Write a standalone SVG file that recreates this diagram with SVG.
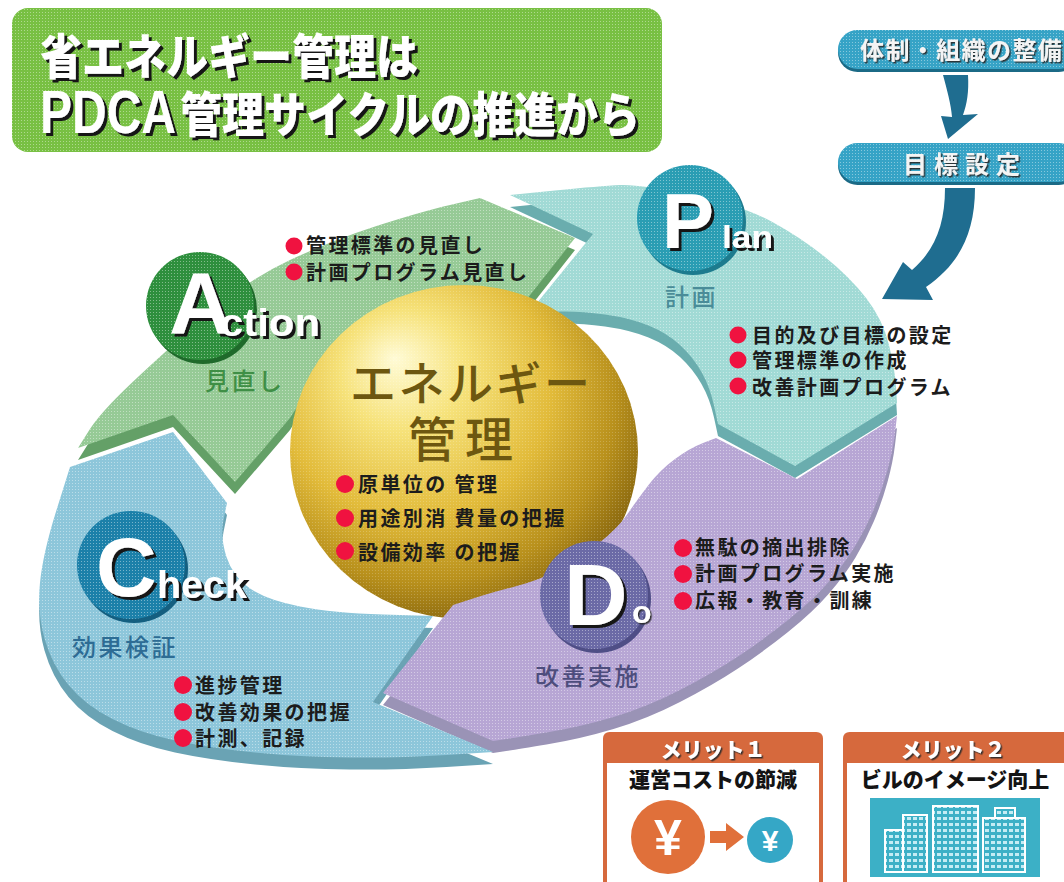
<svg xmlns="http://www.w3.org/2000/svg" width="1064" height="882" viewBox="0 0 1064 882">
<defs>
<style>
.jp{font-family:'Noto Sans CJK JP','Noto Sans CJK SC',sans-serif}
.lat{font-family:'Liberation Sans',Arial,sans-serif;font-weight:700}
.bul{font-size:20px;font-weight:700;fill:#1c1c1c;letter-spacing:2.4px}
.red{fill:#f01240}
.wt{fill:#fff}
.title{font-size:48px;font-weight:900}
.sub{font-size:24px;font-weight:500;letter-spacing:2.5px}
.pill{font-size:24px;font-weight:700}
.merit{font-size:21px;font-weight:900}
.sh3{filter:url(#drop3)}
.sh2{filter:url(#drop2)}
</style>
<filter id="drop3" x="-10%" y="-10%" width="130%" height="140%">
<feDropShadow dx="3" dy="3" stdDeviation="0.4" flood-color="#161616" flood-opacity="1"/>
</filter>
<filter id="drop2" x="-10%" y="-10%" width="130%" height="140%">
<feDropShadow dx="1.5" dy="1.5" stdDeviation="0.4" flood-color="#2a2a2a" flood-opacity="0.9"/>
</filter>
<radialGradient id="gold" cx="0.4" cy="0.36" r="0.72" fx="0.3" fy="0.22">
<stop offset="0" stop-color="#fffbd6"/>
<stop offset="0.25" stop-color="#f6e27a"/>
<stop offset="0.55" stop-color="#e2bb3a"/>
<stop offset="0.78" stop-color="#b8901c"/>
<stop offset="0.92" stop-color="#8d6b10"/>
<stop offset="1" stop-color="#9c7a1c"/>
</radialGradient>
<!-- halftone dot overlay used on the printed surfaces -->
<pattern id="dots" width="3" height="3" patternUnits="userSpaceOnUse">
<rect width="1" height="1" fill="#fff" fill-opacity="0.4"/>
</pattern>
<pattern id="win" width="6" height="6" patternUnits="userSpaceOnUse">
<rect width="6" height="6" fill="#3cb0c6"/>
<rect x="1" y="1" width="4" height="3" fill="#c4ecf4"/>
</pattern>
<!-- ring segments: top faces, clockwise Action > Plan > Do > Check -->
<path id="pA" d="M 78,448 L 89,430.5 Q 100,413 130,384.5 Q 160,356 203.5,318 Q 247,280 290,260 Q 333,240 376.5,226 Q 420,212 450,205 L 480,198 L 575,238 L 512,318 C 440,300 340,340 290,418 L 235,482 L 173,415 Z"/>
<path id="pP" d="M 510,195 L 555,190.5 Q 600,186 620,185 Q 640,184 691.5,195 Q 743,206 771.5,221.5 Q 800,237 825,257 Q 850,277 866.5,298.5 Q 883,320 889,345 Q 895,370 896,386.5 L 897,403 L 795,466 L 718,424 L 714,405.5 Q 710,387 701.5,372 Q 693,357 680,345 Q 667,333 648.5,325.5 Q 630,318 605,314.5 Q 580,311 560,311.5 L 528,314 L 593,234 Z"/>
<path id="pD" d="M 897,416 L 895,433 Q 893,450 887.5,470 Q 882,490 874,509 Q 866,528 855.5,545.5 Q 845,563 829,581.5 Q 813,600 788,620 Q 763,640 738,656.5 Q 713,673 680,690 Q 647,707 613.5,717 Q 580,727 546.5,732.5 Q 513,738 503,739.5 L 493,741 L 383,693 L 453,605 L 471.5,599 Q 490,593 515,586.5 Q 540,580 560,569 Q 580,558 599,543 Q 618,528 627.5,514 Q 637,500 648.5,485 Q 660,470 675,459 Q 690,448 703,443 L 716,438 L 797,479 Z"/>
<path id="pC" d="M 493,752 L 446.5,755 Q 400,758 350,757.5 Q 300,757 255,752.5 Q 210,748 175,740.5 Q 140,733 112.5,719 Q 85,705 68.5,685 Q 52,665 44.5,638.5 Q 37,612 40,582.5 Q 43,553 56.5,510 L 70,467 L 173,432 L 227,503 L 223.5,520 Q 220,537 226.5,557 Q 233,577 250,588.5 Q 267,600 300,606.5 Q 333,613 383,614.5 L 433,616 L 373,702 Z"/>
</defs>

<rect width="1064" height="882" fill="#fff"/>

<!-- heading plate -->
<g id="title">
<rect x="12" y="8" width="650" height="144" rx="16" fill="#78c043"/>
<rect x="12" y="8" width="650" height="144" rx="16" fill="url(#dots)"/>
<text class="jp title wt sh3" x="40" y="74" textLength="378" lengthAdjust="spacingAndGlyphs">省エネルギー管理は</text>
<text class="lat wt sh3" font-size="62" x="40" y="133" textLength="136" lengthAdjust="spacingAndGlyphs">PDCA</text>
<text class="jp title wt sh3" x="180" y="132" textLength="460" lengthAdjust="spacingAndGlyphs">管理サイクルの推進から</text>
</g>

<!-- preparation steps -->
<g id="step-taisei">
<rect x="838" y="33" width="240" height="39" rx="19.5" fill="#1b6a86"/>
<rect x="838" y="30" width="240" height="39" rx="19.5" fill="#36a3c6"/>
<rect x="838" y="30" width="240" height="39" rx="19.5" fill="url(#dots)"/>
<text class="jp pill sh2" x="860" y="59" fill="#f4f4f4" letter-spacing="1.4">体制・組織の整備</text>
</g>
<g id="step-mokuhyo">
<rect x="838" y="146" width="240" height="39" rx="19.5" fill="#1b6a86"/>
<rect x="838" y="143" width="240" height="39" rx="19.5" fill="#36a3c6"/>
<rect x="838" y="143" width="240" height="39" rx="19.5" fill="url(#dots)"/>
<text class="jp pill sh2" x="903" y="173" fill="#f4f4f4" letter-spacing="7">目標設定</text>
</g>

<g id="connectors" fill="#1f6d90">
<path d="M 943,75 L 968,75 C 969,92 967,104 963,115 L 978,114 L 948,139 L 941,116 L 952,117 C 951,104 947,90 943,75 Z"/>
<path d="M 945,188 L 975,188 C 975,235 958,265 926,287 L 933,300 L 882,299 L 903,262 L 912,270 C 935,250 945,225 945,188 Z"/>
</g>

<!-- side faces of the far half of the ring -->
<g id="ring-back-sides">
<use href="#pA" transform="translate(0,12)" fill="#64a067"/>
<use href="#pP" transform="translate(0,12)" fill="#6aadae"/>
</g>

<g id="action">
<use href="#pA" fill="#96ca96"/>
<use href="#pA" fill="url(#dots)"/>
<circle cx="203" cy="310" r="54" fill="#1f6a2b"/>
<circle cx="200" cy="306" r="54" fill="#2e8f3d"/>
<circle cx="200" cy="306" r="54" fill="url(#dots)"/>
<text class="lat wt sh3" font-size="88" x="169" y="333">A</text>
<text class="lat wt sh3" font-size="38" x="220" y="336" textLength="100" lengthAdjust="spacingAndGlyphs">ction</text>
<text class="jp sub" x="205" y="390" fill="#3f8f46">見直し</text>
<circle class="red" cx="294" cy="246" r="8.5"/>
<text class="jp bul" x="306" y="253">管理標準の見直し</text>
<circle class="red" cx="294" cy="272" r="8.5"/>
<text class="jp bul" x="306" y="280">計画プログラム見直し</text>
</g>

<g id="plan">
<use href="#pP" fill="#a1dad5"/>
<use href="#pP" fill="url(#dots)"/>
<circle cx="693" cy="222" r="53" fill="#1d7b8e"/>
<circle cx="690" cy="218" r="53" fill="#2a9db3"/>
<circle cx="690" cy="218" r="53" fill="url(#dots)"/>
<text class="lat wt sh3" font-size="78" x="662" y="248">P</text>
<text class="lat wt sh3" font-size="32" x="722" y="248" textLength="51" lengthAdjust="spacingAndGlyphs">lan</text>
<text class="jp sub" x="665" y="306" fill="#4a8c98">計画</text>
<circle class="red" cx="738" cy="335" r="8.5"/>
<text class="jp bul" x="752" y="343">目的及び目標の設定</text>
<circle class="red" cx="738" cy="360" r="8.5"/>
<text class="jp bul" x="752" y="368">管理標準の作成</text>
<circle class="red" cx="738" cy="386" r="8.5"/>
<text class="jp bul" x="752" y="395">改善計画プログラム</text>
</g>

<g id="energy">
<ellipse cx="464" cy="452" rx="174" ry="167" fill="url(#gold)"/>
<ellipse cx="464" cy="452" rx="174" ry="167" fill="url(#dots)" opacity="0.5"/>
<text class="jp" font-size="46" font-weight="500" fill="#6d5710" x="350" y="400" textLength="240">エネルギー</text>
<text class="jp" font-size="48" font-weight="500" fill="#6d5710" x="408" y="457" textLength="105">管理</text>
<circle class="red" cx="345" cy="484" r="9"/>
<text class="jp bul" font-size="22" x="358" y="492" letter-spacing="1.5">原単位の 管理</text>
<circle class="red" cx="345" cy="518" r="9"/>
<text class="jp bul" font-size="22" x="358" y="526" letter-spacing="1.5">用途別消 費量の把握</text>
<circle class="red" cx="345" cy="551" r="9"/>
<text class="jp bul" font-size="22" x="358" y="560" letter-spacing="1.5">設備効率 の把握</text>
</g>

<!-- side faces of the near half of the ring -->
<g id="ring-front-sides">
<use href="#pD" transform="translate(0,12)" fill="#9a93b6"/>
<use href="#pC" transform="translate(0,12)" fill="#6aa3b4"/>
</g>

<g id="do">
<use href="#pD" fill="#b7a6d4"/>
<use href="#pD" fill="url(#dots)"/>
<circle cx="597" cy="599" r="54" fill="#4f4e86"/>
<circle cx="594" cy="595" r="54" fill="#6b6aa6"/>
<circle cx="594" cy="595" r="54" fill="url(#dots)"/>
<text class="lat wt sh3" font-size="88" x="564" y="625">D</text>
<text class="lat wt sh2" font-size="32" x="632" y="623">o</text>
<text class="jp sub" x="535" y="685" fill="#4d4d7c">改善実施</text>
<circle class="red" cx="683" cy="548" r="9"/>
<text class="jp bul" x="695" y="555">無駄の摘出排除</text>
<circle class="red" cx="683" cy="574" r="9"/>
<text class="jp bul" x="695" y="581">計画プログラム実施</text>
<circle class="red" cx="683" cy="601" r="9"/>
<text class="jp bul" x="695" y="608">広報・教育・訓練</text>
</g>

<g id="check">
<use href="#pC" fill="#8dc6da"/>
<use href="#pC" fill="url(#dots)"/>
<circle cx="134" cy="569" r="54" fill="#145f80"/>
<circle cx="131" cy="565" r="54" fill="#1c80a9"/>
<circle cx="131" cy="565" r="54" fill="url(#dots)"/>
<text class="lat wt sh3" font-size="84" x="96" y="596">C</text>
<text class="lat wt sh3" font-size="38" x="157" y="598" textLength="90" lengthAdjust="spacingAndGlyphs">heck</text>
<text class="jp sub" x="72" y="656" fill="#2d6c94" font-weight="700">効果検証</text>
<circle class="red" cx="183" cy="685" r="9"/>
<text class="jp bul" x="195" y="693">進捗管理</text>
<circle class="red" cx="183" cy="712" r="9"/>
<text class="jp bul" x="195" y="720">改善効果の把握</text>
<circle class="red" cx="183" cy="738" r="9"/>
<text class="jp bul" x="195" y="746">計測、記録</text>
</g>

<!-- merit cards -->
<g id="merit1">
<rect x="605" y="734" width="216" height="160" rx="7" fill="#fff" stroke="#d6693d" stroke-width="4"/>
<path d="M 603,763 V 739 Q 603,732 610,732 H 816 Q 823,732 823,739 V 763 Z" fill="#d6693d"/>
<text class="jp merit wt sh2" x="713" y="757" text-anchor="middle">メリット１</text>
<text class="jp merit" x="713" y="787" text-anchor="middle" fill="#141414">運営コストの節減</text>
<circle cx="668" cy="837" r="37" fill="#e0703a"/>
<text class="lat" font-size="50" x="668" y="855" text-anchor="middle" fill="#fff">¥</text>
<polygon points="710,831 726,831 726,823 744,837 726,851 726,843 710,843" fill="#e0703a"/>
<circle cx="770" cy="840" r="23" fill="#35a7c6"/>
<text class="lat" font-size="30" x="770" y="851" text-anchor="middle" fill="#fff">¥</text>
</g>

<g id="merit2">
<rect x="845" y="734" width="240" height="160" rx="7" fill="#fff" stroke="#d6693d" stroke-width="4"/>
<path d="M 843,763 V 739 Q 843,732 850,732 H 1070 V 763 Z" fill="#d6693d"/>
<text class="jp merit wt sh2" x="953" y="757" text-anchor="middle">メリット２</text>
<text class="jp merit" x="955" y="787" text-anchor="middle" fill="#141414">ビルのイメージ向上</text>
<rect x="870" y="798" width="170" height="79" fill="#3cb0c6"/>
<g fill="url(#win)" stroke="#fff" stroke-width="2">
<rect x="885" y="830" width="20" height="42"/>
<rect x="903" y="815" width="24" height="57"/>
<rect x="933" y="806" width="45" height="66"/>
<rect x="983" y="818" width="42" height="54"/>
<rect x="995" y="808" width="20" height="10"/>
</g>
</g>
</svg>
